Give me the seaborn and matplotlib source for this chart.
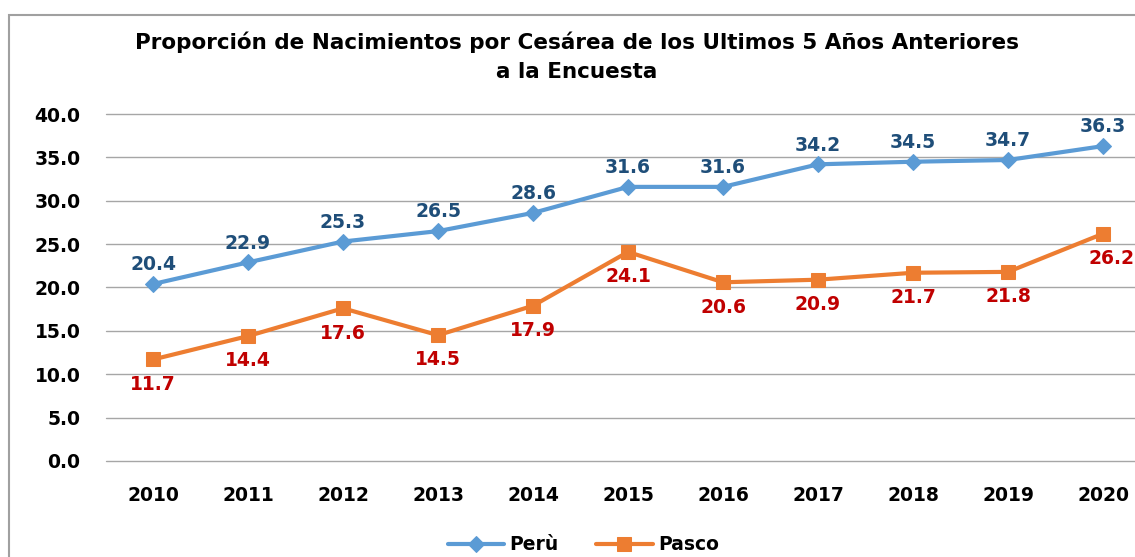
import matplotlib
matplotlib.use("Agg")
import matplotlib.pyplot as plt
import seaborn as sns
import pandas as pd
from matplotlib.patches import Rectangle

years = ["2010", "2011", "2012", "2013", "2014", "2015", "2016", "2017", "2018", "2019", "2020"]
peru = [20.4, 22.9, 25.3, 26.5, 28.6, 31.6, 31.6, 34.2, 34.5, 34.7, 36.3]
pasco = [11.7, 14.4, 17.6, 14.5, 17.9, 24.1, 20.6, 20.9, 21.7, 21.8, 26.2]
yticks = [0, 5, 10, 15, 20, 25, 30, 35, 40]

BLUE = "#5B9BD5"
ORANGE = "#ED7D31"
BLUE_TXT = "#1F4E79"
RED_TXT = "#C00000"
GRID = "#A6A6A6"

sns.set_style("white")
plt.rcParams['font.family'] = ['DejaVu Sans']
plt.rcParams['font.weight'] = 'bold'
plt.rcParams['text.color'] = 'black'
plt.rcParams['xtick.color'] = 'black'
plt.rcParams['ytick.color'] = 'black'

FS = 13.5

df = pd.DataFrame({"x": list(range(len(years))), "peru": peru, "pasco": pasco})

fig = plt.figure(figsize=(11.35, 5.57), dpi=100)
ax = fig.add_axes([0.093, 0.1724, 0.9207, 0.6229])

sns.lineplot(data=df, x="x", y="peru", ax=ax, color=BLUE, lw=3, marker="D",
             markersize=8, markeredgecolor=BLUE, label="Perù", zorder=3)
sns.lineplot(data=df, x="x", y="pasco", ax=ax, color=ORANGE, lw=3, marker="s",
             markersize=10, markeredgecolor=ORANGE, label="Pasco", zorder=3)

for i, v in enumerate(peru):
    ax.annotate(f"{v:.1f}", (i, v), xytext=(0, 7), textcoords="offset points",
                ha="center", va="bottom", color=BLUE_TXT, fontsize=FS, fontweight="bold")
for i, v in enumerate(pasco):
    dx = 6 if i == len(pasco) - 1 else 0
    ax.annotate(f"{v:.1f}", (i, v), xytext=(dx, -11), textcoords="offset points",
                ha="center", va="top", color=RED_TXT, fontsize=FS, fontweight="bold")

ax.set_xlim(-0.5, len(years) - 0.5)
ax.set_ylim(0, 40)
ax.set_yticks(yticks)
ax.set_yticklabels([f"{t:.1f}" for t in yticks], fontsize=FS, fontweight="bold")
ax.set_xticks(range(len(years)))
ax.set_xticklabels(years, fontsize=FS, fontweight="bold")
ax.tick_params(axis="x", length=0, pad=18)
ax.tick_params(axis="y", length=0, pad=18)
ax.grid(axis="y", color=GRID, lw=1)
for gl in ax.get_ygridlines():
    gl.set_clip_on(False)
ax.set_axisbelow(True)
for s in ax.spines.values():
    s.set_visible(False)
ax.set_xlabel("")
ax.set_ylabel("")

ax.legend(loc="center", bbox_to_anchor=(0.514, 0.022), bbox_transform=fig.transFigure,
          ncol=2, frameon=False, handlelength=3.0, columnspacing=2.0, handletextpad=0.3,
          prop={"weight": "bold", "size": FS})

fig.text(0.508, 0.898, "Proporción de Nacimientos por Cesárea de los Ultimos 5 Años Anteriores\na la Encuesta",
         ha="center", va="center", fontsize=15.5, fontweight="bold", linespacing=1.6)

fig.patches.append(Rectangle((9 / 1135, -0.1), 1.2, 1 - 15 / 557 + 0.1, transform=fig.transFigure,
                             fill=False, edgecolor="#A0A0A0", lw=1.5, figure=fig))

fig.savefig("out.png", dpi=100)
